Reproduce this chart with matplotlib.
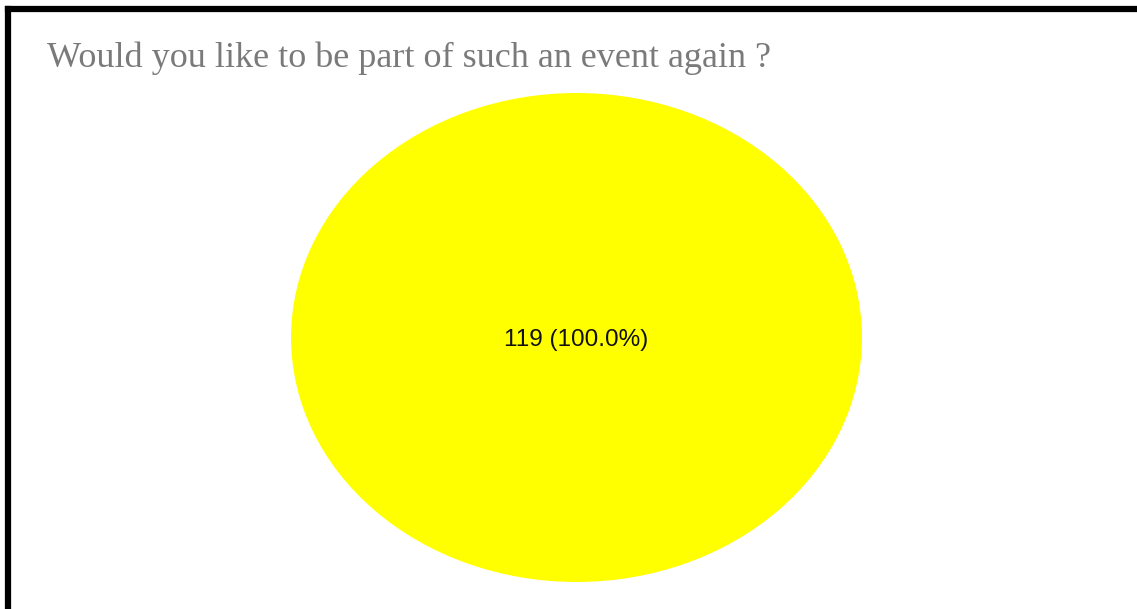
import matplotlib
matplotlib.use("Agg")
import matplotlib.pyplot as plt
from matplotlib.lines import Line2D

title = "Would you like to be part of such an event again ?"
labels = ["Yes"]
counts = [119]
colors = ["#ffff00"]

W, H = 1137, 609
fig = plt.figure(figsize=(W / 100, H / 100), dpi=100)
fig.patch.set_facecolor("white")

# frame: top and left edges only visible
fig.add_artist(Line2D([8 / W, 8 / W], [0, 1 - 9 / H], transform=fig.transFigure,
                      color="black", lw=4.5, solid_capstyle="projecting"))
fig.add_artist(Line2D([8 / W, 1], [1 - 9 / H, 1 - 9 / H], transform=fig.transFigure,
                      color="black", lw=4.5, solid_capstyle="projecting"))

fig.text(47 / W, 1 - 67 / H, title, fontsize=26, color="#7a7a7a",
         family="Liberation Serif", va="baseline", ha="left")

ax = fig.add_axes([291 / W, (H - 582) / H, 571 / W, 489 / H])
total = sum(counts)
ax.pie(counts, colors=colors, radius=1, startangle=90,
       wedgeprops=dict(linewidth=0))
ax.set_aspect("auto")
ax.set_xlim(-1, 1)
ax.set_ylim(-1, 1)
ax.axis("off")
for c in counts:
    ax.text(0, -0.012, f"{c} ({c / total * 100:.1f}%)", ha="center", va="center",
            fontsize=17.5, family="Liberation Sans", color="#111111")

fig.savefig("out.png", dpi=100)
